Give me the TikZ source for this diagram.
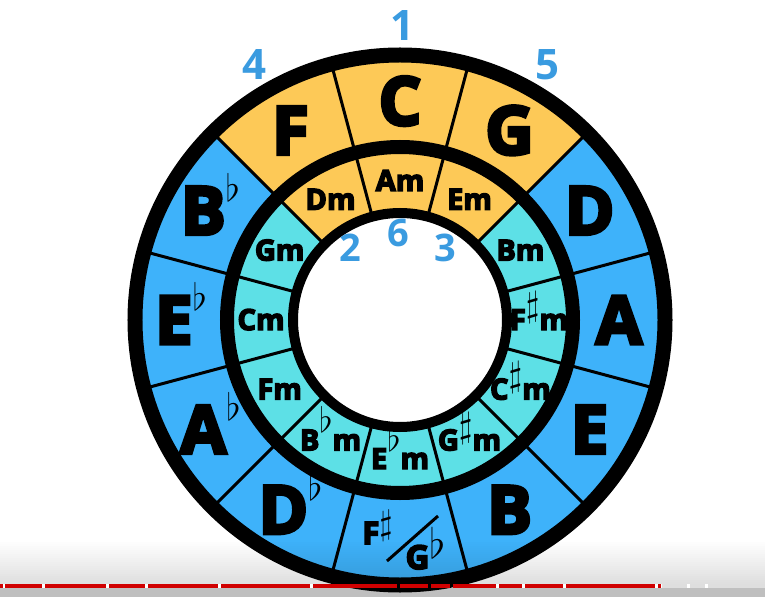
\documentclass[tikz,border=0pt]{standalone}
\usepackage{fontspec}
\setmainfont{Open Sans}[BoldFeatures={FakeBold=5}]
\newfontfamily\degfont{Open Sans}
\usepackage{graphicx}

\definecolor{tonic}{HTML}{FDC957}
\definecolor{outerblue}{HTML}{3EB2FA}
\definecolor{innerteal}{HTML}{5DE0E6}
\definecolor{degblue}{HTML}{3A9BE0}
\definecolor{barred}{HTML}{D00000}

% accidental: glyph, raise, height
\newcommand\acc[3]{\raisebox{#2}{\resizebox*{!}{#3}{$#1$}}}
\newcommand\bfl{\acc\flat{.5em}{.42em}}
\newcommand\sfl{\acc\flat{.62em}{.9em}}
\newcommand\ssh{\acc\sharp{.45em}{1.1em}}

\begin{document}
\begin{tikzpicture}[x=1pt, y=1pt,
    major/.style={font=\fontsize{67}{67}\selectfont\bfseries, text height=48pt, text depth=0pt, inner sep=0pt},
    minor/.style={font=\fontsize{29}{29}\selectfont\bfseries, text height=20pt, text depth=0pt, inner sep=0pt},
    degree/.style={font=\fontsize{42}{42}\selectfont\degfont\bfseries, text=degblue, inner sep=0pt},
    spoke/.style={line width=3pt}]

    \useasboundingbox (-400,-277) rectangle (365,320);
    \fill[white] (-400,-277) rectangle (365,320);

    % sectors
    \foreach \a/\outc/\inc in {0/outerblue/innerteal, 30/outerblue/innerteal, 60/tonic/tonic, 90/tonic/tonic, 120/tonic/tonic, 150/outerblue/innerteal, 180/outerblue/innerteal, 210/outerblue/innerteal, 240/outerblue/innerteal, 270/outerblue/innerteal, 300/outerblue/innerteal, 330/outerblue/innerteal} {
        \fill[\outc] (\a-15:265) arc[start angle=\a-15, end angle=\a+15, radius=265] -- (\a+15:173) arc[start angle=\a+15, end angle=\a-15, radius=173] -- cycle;
        \fill[\inc] (\a-15:173) arc[start angle=\a-15, end angle=\a+15, radius=173] -- (\a+15:107) arc[start angle=\a+15, end angle=\a-15, radius=107] -- cycle;
    }
    \foreach \a in {15,45,...,345}
        \draw[spoke] (\a:107) -- (\a:265);

    % rings
    \draw[line width=15pt] (0,0) circle[radius=265];
    \draw[line width=14pt] (0,0) circle[radius=173];
    \draw[line width=10pt] (0,0) circle[radius=107];

    % major keys
    \foreach \a/\n/\t in {90/C/C, 60/G/G, 30/D/D, 0/A/A, -30/E/E, -60/B/B, -120/Db/D\bfl, -150/Ab/A\bfl, 180/Eb/E\bfl, 150/Bb/B\bfl, 120/F/F}
        \node[major] (maj\n) at (\a:219) {\t};
    \node[major, font=\fontsize{31}{31}\selectfont\bfseries, text height=22pt] (majFs) at (-22.5,-213) {F\acc\sharp{.3em}{1em}};
    \node[major, font=\fontsize{33}{33}\selectfont\bfseries, text height=23pt] (majGb) at (25.5,-237.5) {G\acc\flat{.33em}{.95em}};
    \draw[line width=3pt] (-13,-241) -- (38,-196);

    % minor keys
    \foreach \a/\n/\t in {90/Am/Am, 60/Em/Em, 30/Bm/Bm, 0/Fsm/F\ssh m, -30/Csm/C\ssh m, -60/Gsm/G\ssh m, -90/Ebm/E\sfl m, -120/Bbm/B\sfl m, -150/Fm/Fm, 180/Cm/Cm, 150/Gm/Gm, 120/Dm/Dm}
        \node[minor] (min\n) at (\a:139) {\t};

    % degrees
    \node[degree] (deg1) at (2,294) {1};
    \node[degree] (deg4) at (-146,255) {4};
    \node[degree] (deg5) at (147,255) {5};
    \node[degree, font=\fontsize{38}{38}\selectfont\degfont\bfseries] (deg2) at (-50,72) {2};
    \node[degree, font=\fontsize{38}{38}\selectfont\degfont\bfseries] (deg6) at (-2,87) {6};
    \node[degree, font=\fontsize{38}{38}\selectfont\degfont\bfseries] (deg3) at (45,72) {3};

    % player bar
    \foreach \i in {0,...,21}
        \fill[black, opacity=0.006*\i] (-400,-220-2*\i) rectangle (365,-222-2*\i);
    \fill[black, opacity=0.25] (-400,-268) rectangle (365,-277);
    \foreach \l/\r in {-400/-397, -395/-358, -355/-294, -291/-255, -252/-182, -179/-90, -87/-3, 0/28, 31/50, 53/96, 99/122, 125/163, 166/255, 258/261}
        \fill[barred] (\l,-264) rectangle (\r,-268);
    \foreach \l/\r in {262/287, 290/305, 308/365}
        \fill[black!13] (\l,-264) rectangle (\r,-268);
\end{tikzpicture}
\end{document}
